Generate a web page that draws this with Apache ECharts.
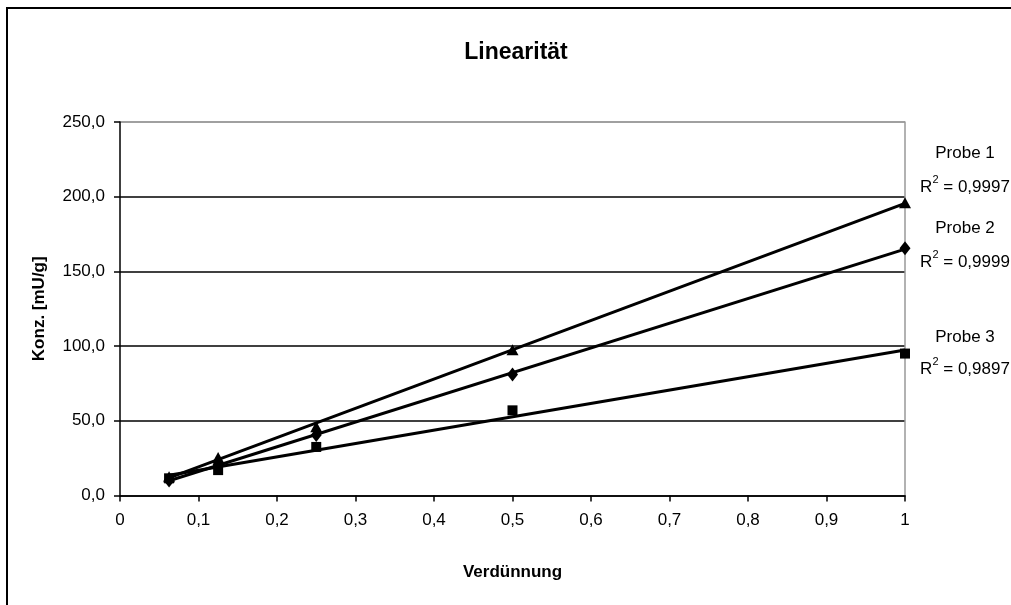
<!DOCTYPE html>
<html>
<head>
<meta charset="utf-8">
<script src="https://cdn.jsdelivr.net/npm/echarts@6/dist/echarts.min.js"></script>
<style>html,body{margin:0;padding:0;background:#fff}#c{width:1011px;height:605px}</style>
</head>
<body>
<div id="c"></div>
<script>
// Data
var dilutions = [0.0625, 0.125, 0.25, 0.5, 1];
var probe1 = [12.5, 25.5, 46, 97.5, 196];
var probe2 = [10, 21, 40.5, 81, 165.5];
var probe3 = [11.5, 17, 32.5, 57, 95];
var seriesNames = ['Probe 1', 'Probe 2', 'Probe 3'];
var r2Labels = ['0,9997', '0,9999', '0,9897'];
var yTicks = [0, 50, 100, 150, 200, 250];

function pairs(ys) { return dilutions.map(function (x, i) { return [x, ys[i]]; }); }
function trend(ys) {
  var n = dilutions.length, mx = 0, my = 0;
  for (var i = 0; i < n; i++) { mx += dilutions[i]; my += ys[i]; }
  mx /= n; my /= n;
  var sxy = 0, sxx = 0;
  for (i = 0; i < n; i++) { sxy += (dilutions[i] - mx) * (ys[i] - my); sxx += (dilutions[i] - mx) * (dilutions[i] - mx); }
  var b = sxy / sxx, a = my - b * mx;
  var x0 = dilutions[0], x1 = dilutions[n - 1];
  return [[x0, a + b * x0], [x1, a + b * x1]];
}

var FONT = 'Liberation Sans, Arial, sans-serif';
var all = [probe1, probe2, probe3];
var symbols = ['triangle', 'diamond', 'rect'];
var symSizes = [[12, 11], [11, 14], [10, 10]];
var series = [];
all.forEach(function (ys, k) {
  series.push({
    name: seriesNames[k], type: 'scatter', data: pairs(ys), symbol: symbols[k],
    symbolSize: symSizes[k], itemStyle: { color: '#000', opacity: 1 }, z: 3, silent: true
  });
  series.push({
    name: seriesNames[k] + ' Trend', type: 'line', data: trend(ys), symbol: 'none',
    lineStyle: { color: '#000', width: 3 }, z: 4, silent: true, animation: false
  });
});

var labelY = [[153, 185], [228, 260], [337, 367]];
var graphics = [{
  type: 'rect', shape: { x: 7, y: 8, width: 1030, height: 620 },
  style: { fill: 'none', stroke: '#000', lineWidth: 2 }, z: 0
}];
seriesNames.forEach(function (nm, k) {
  graphics.push({
    type: 'text', x: 965, y: labelY[k][0],
    style: { text: nm, font: '17px ' + FONT, fill: '#000', align: 'center', verticalAlign: 'middle' }
  });
  graphics.push({
    type: 'text', x: 965, y: labelY[k][1],
    style: {
      text: '{a|R}{s|2}{a| = ' + r2Labels[k] + '}', align: 'center', verticalAlign: 'middle',
      rich: {
        a: { fontSize: 17, fontFamily: FONT, fill: '#000', lineHeight: 22, verticalAlign: 'bottom' },
        s: { fontSize: 11, fontFamily: FONT, fill: '#000', lineHeight: 22, verticalAlign: 'top' }
      }
    }
  });
});

var chart = echarts.init(document.getElementById('c'), null, { renderer: 'canvas' });
chart.setOption({
  animation: false,
  backgroundColor: '#fff',
  title: {
    text: 'Linearität', left: 511, top: 36, textAlign: 'center',
    textStyle: { fontFamily: FONT, fontSize: 23, fontWeight: 'bold', color: '#000' }
  },
  grid: { left: 120, right: 106, top: 122, bottom: 109.5, containLabel: false },
  xAxis: {
    type: 'value', min: 0, max: 1, interval: 0.1,
    name: 'Verdünnung', nameLocation: 'middle', nameGap: 68,
    nameTextStyle: { fontFamily: FONT, fontSize: 17, fontWeight: 'bold', color: '#000' },
    axisLine: { show: true, onZero: false, lineStyle: { color: '#000', width: 1.5 } },
    axisTick: { show: true, inside: false, length: 6, lineStyle: { color: '#000', width: 1.5 } },
    axisLabel: {
      margin: 16, fontFamily: FONT, fontSize: 17, color: '#000',
      formatter: function (v) { return (Math.round(v * 10) / 10).toString().replace('.', ','); }
    },
    splitLine: { show: false }
  },
  yAxis: [{
    type: 'value', min: yTicks[0], max: yTicks[yTicks.length - 1], interval: 50,
    name: 'Konz. [mU/g]', nameLocation: 'middle', nameGap: 72, nameRotate: 90,
    nameTextStyle: { fontFamily: FONT, fontSize: 17, fontWeight: 'bold', color: '#000' },
    axisLine: { show: true, lineStyle: { color: '#000', width: 1.5 } },
    axisTick: { show: true, inside: false, length: 6, lineStyle: { color: '#000', width: 1.5 } },
    axisLabel: {
      margin: 15, fontFamily: FONT, fontSize: 17, color: '#000',
      formatter: function (v) { return v.toFixed(1).replace('.', ','); }
    },
    splitLine: { show: true, lineStyle: { color: ['#000', '#000', '#000', '#000', '#000', '#808080'], width: 1.5 } }
  }, {
    type: 'value', min: yTicks[0], max: yTicks[yTicks.length - 1], interval: 50, position: 'right',
    axisLine: { show: true, lineStyle: { color: '#999', width: 1.5 } },
    axisTick: { show: false }, axisLabel: { show: false }, splitLine: { show: false }
  }],
  graphic: graphics,
  series: series
});
</script>
</body>
</html>
